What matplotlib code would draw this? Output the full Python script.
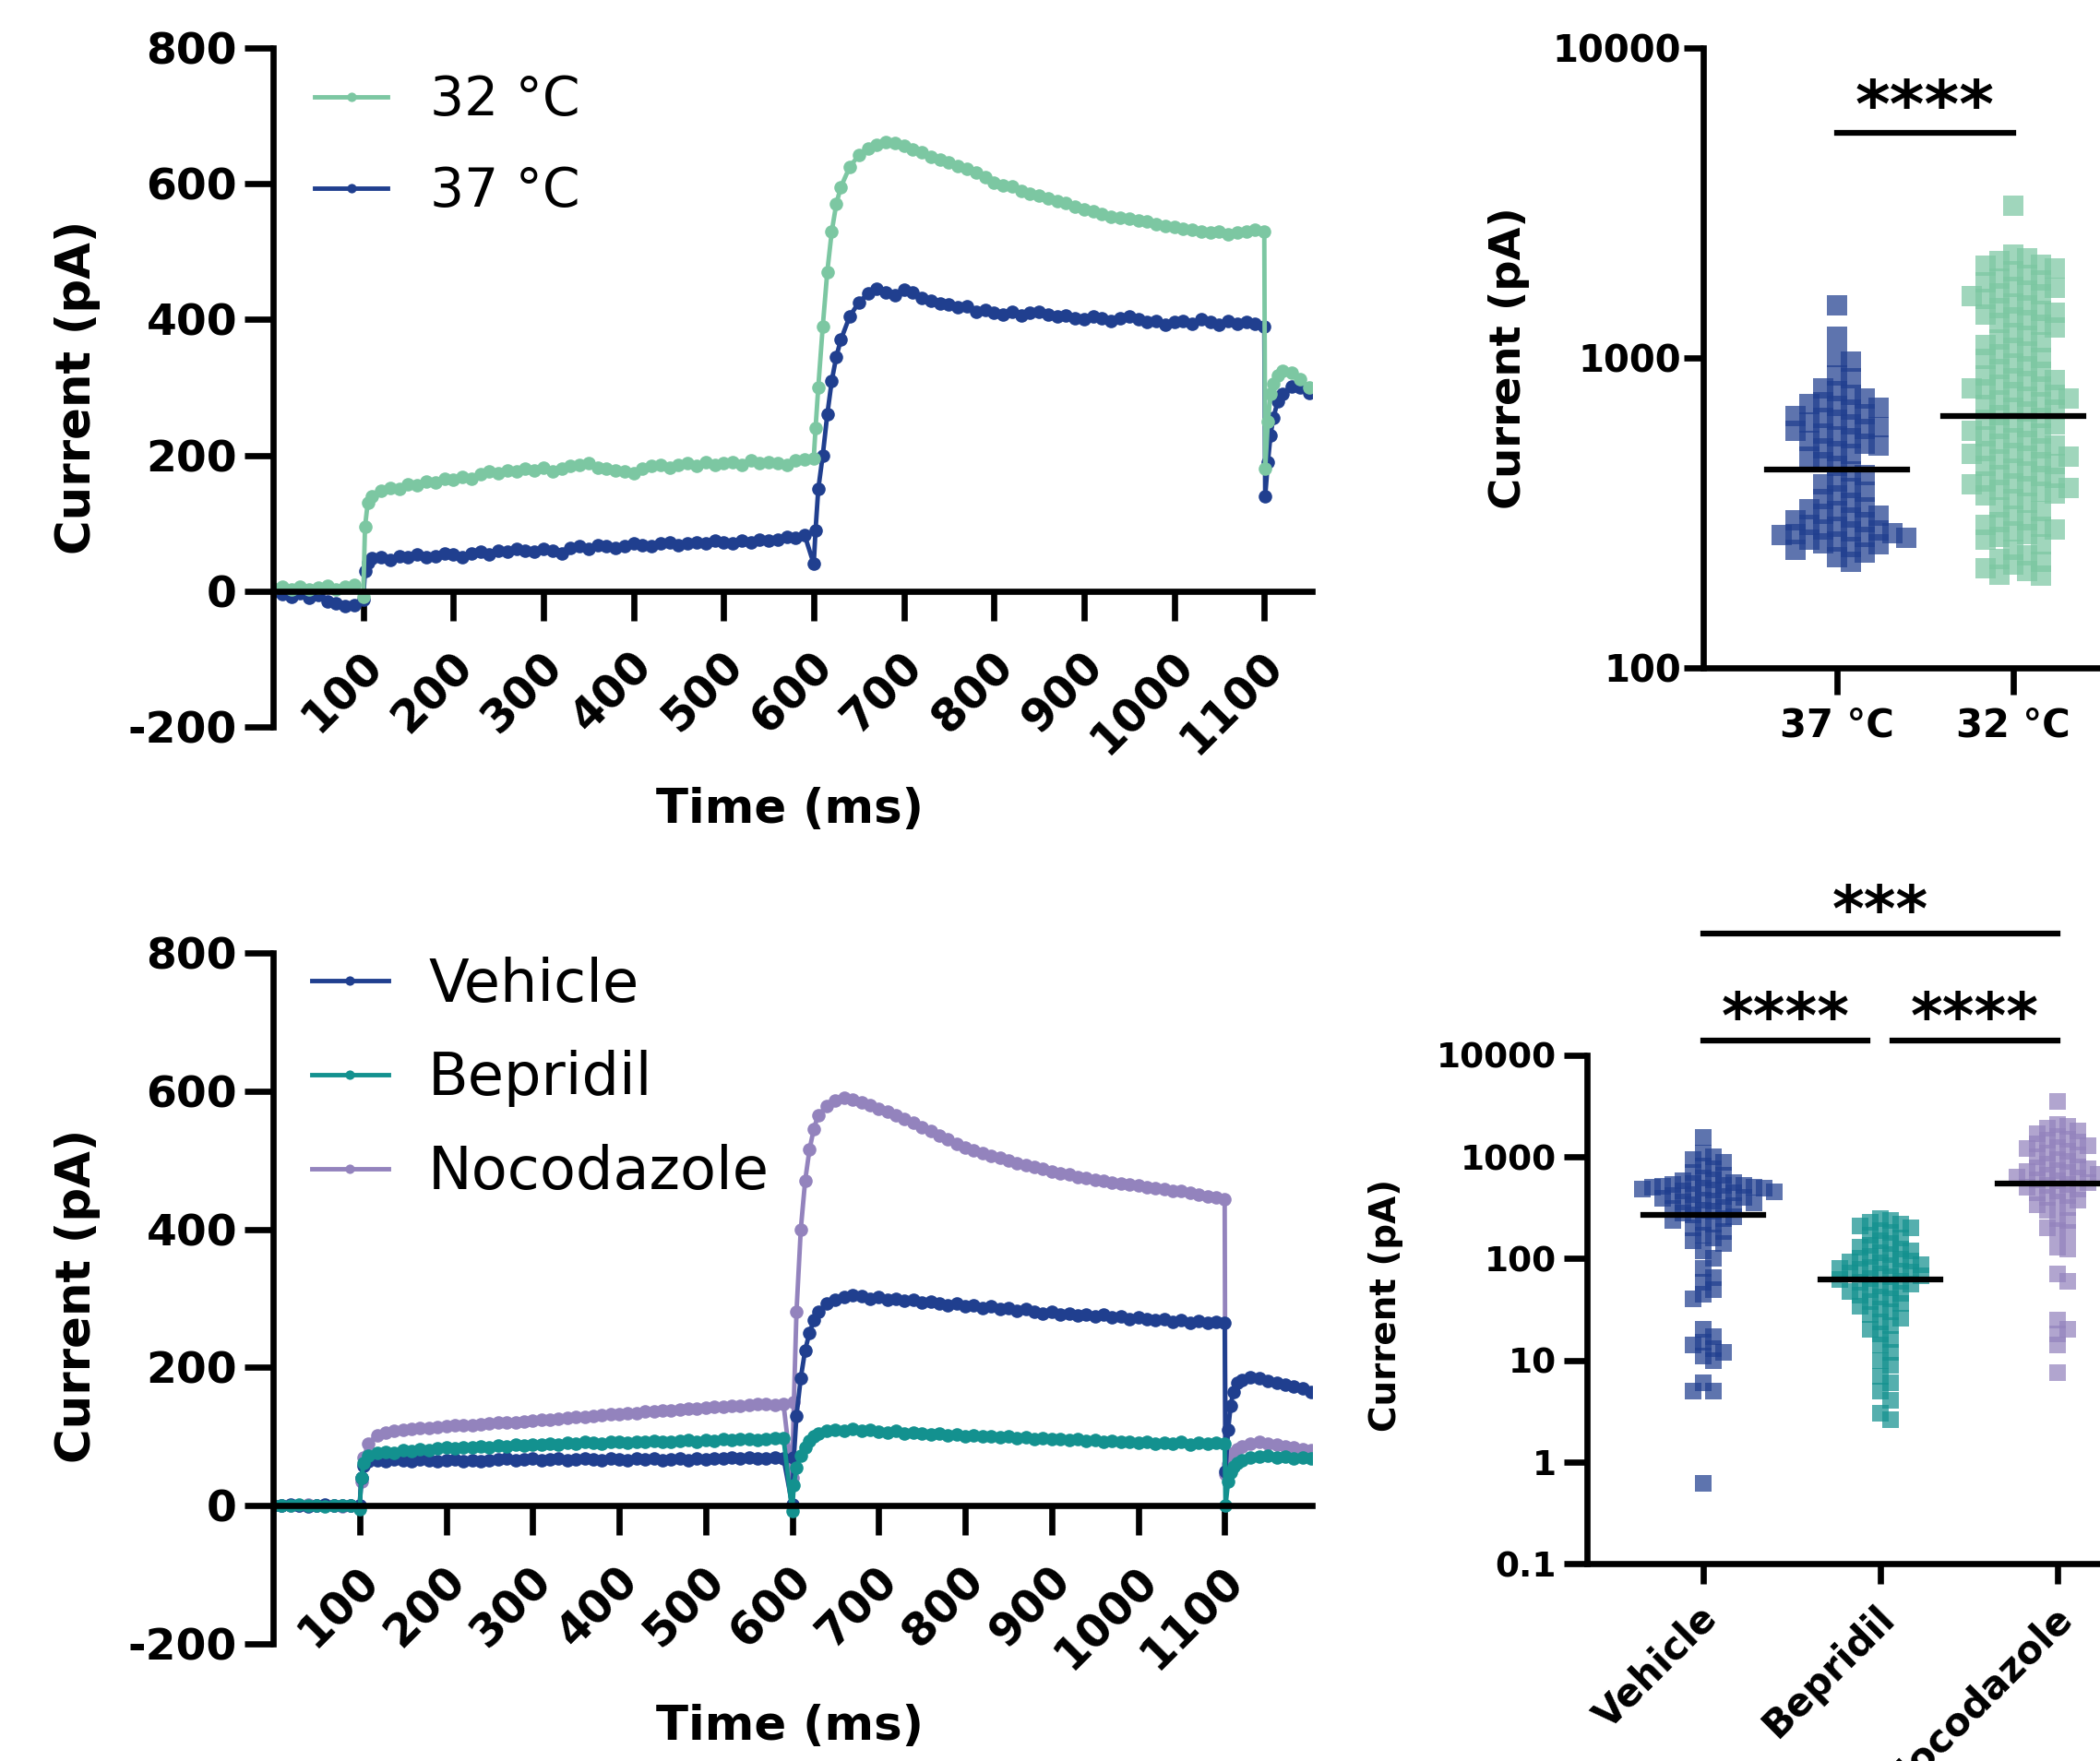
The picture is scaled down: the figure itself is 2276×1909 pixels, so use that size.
import numpy as np
import matplotlib
matplotlib.use('Agg')
import matplotlib.pyplot as plt
from matplotlib.ticker import NullLocator
from matplotlib.transforms import blended_transform_factory, ScaledTranslation

plt.rcParams['font.family'] = ['DejaVu Sans']
plt.rcParams['axes.unicode_minus'] = False

# colours
c_green = '#7cc7a2'
c_blue = '#203f8f'
c_teal = '#13918f'
c_lav = '#9383bd'

############ traces, temperature (ms / pA) ############
t_top = [0, 10, 20, 30, 40, 50, 60, 70, 80, 90,
         100, 102, 105, 110, 120, 130, 140, 150, 160, 170,
         180, 190, 200, 210, 220, 230, 240, 250, 260, 270,
         280, 290, 300, 310, 320, 330, 340, 350, 360, 370,
         380, 390, 400, 410, 420, 430, 440, 450, 460, 470,
         480, 490, 500, 510, 520, 530, 540, 550, 560, 570,
         580, 590,
         600, 602, 605, 610, 615, 620, 625,
         630, 640, 650, 660, 670, 680, 690, 700, 710, 720,
         730, 740, 750, 760, 770, 780, 790, 800, 810, 820,
         830, 840, 850, 860, 870, 880, 890, 900, 910, 920,
         930, 940, 950, 960, 970, 980, 990, 1000, 1010, 1020,
         1030, 1040, 1050, 1060, 1070, 1080, 1090,
         1100, 1101, 1104, 1107, 1110, 1115, 1120, 1130, 1140, 1150]

i_32 = [4, 6, 3, 7, 2, 5, 8, 3, 6, 9,
        -8, 95, 130, 140, 148, 152, 150, 158, 156, 162,
        160, 166, 164, 168, 166, 172, 176, 174, 178, 176,
        180, 178, 182, 176, 180, 184, 186, 188, 182, 180,
        178, 176, 174, 180, 184, 186, 182, 186, 188, 184,
        190, 186, 188, 190, 186, 192, 188, 190, 188, 186,
        192, 194,
        196, 240, 300, 390, 470, 530, 570,
        595, 625, 642, 652, 658, 662, 660, 656, 650, 646,
        640, 636, 632, 626, 622, 616, 610, 602, 598, 596,
        590, 586, 582, 578, 574, 572, 566, 562, 560, 556,
        552, 550, 548, 546, 544, 540, 538, 536, 534, 532,
        530, 528, 530, 526, 528, 530, 532,
        530, 180, 250, 290, 305, 318, 325, 322, 312, 300]

i_37 = [0, -5, -8, -3, -10, -6, -15, -18, -22, -20,
        -12, 30, 42, 48, 50, 46, 52, 50, 54, 50,
        52, 56, 54, 50, 56, 58, 54, 60, 58, 62,
        60, 58, 62, 60, 56, 64, 66, 62, 68, 66,
        64, 66, 70, 68, 66, 70, 72, 68, 70, 72,
        70, 74, 72, 70, 74, 72, 76, 74, 76, 80,
        78, 82,
        40, 90, 150, 200, 260, 310, 345,
        370, 405, 425, 438, 445, 440, 436, 444, 440, 432,
        428, 424, 422, 418, 420, 412, 414, 410, 408, 412,
        406, 410, 412, 408, 404, 406, 402, 400, 404, 402,
        398, 402, 404, 400, 396, 398, 392, 396, 398, 394,
        400, 396, 392, 398, 394, 396, 394,
        390, 140, 190, 230, 255, 280, 290, 302, 300, 292]

############ traces, drugs ############
t_bot = [0, 10, 20, 30, 40, 50, 60, 70, 80, 90,
         100, 102, 105, 110, 120, 130, 140, 150, 160, 170,
         180, 190, 200, 210, 220, 230, 240, 250, 260, 270,
         280, 290, 300, 310, 320, 330, 340, 350, 360, 370,
         380, 390, 400, 410, 420, 430, 440, 450, 460, 470,
         480, 490, 500, 510, 520, 530, 540, 550, 560, 570,
         580, 590,
         600, 602, 605, 610, 615, 620, 625,
         630, 640, 650, 660, 670, 680, 690, 700, 710, 720,
         730, 740, 750, 760, 770, 780, 790, 800, 810, 820,
         830, 840, 850, 860, 870, 880, 890, 900, 910, 920,
         930, 940, 950, 960, 970, 980, 990, 1000, 1010, 1020,
         1030, 1040, 1050, 1060, 1070, 1080, 1090,
         1100, 1101, 1104, 1107, 1110, 1115, 1120, 1130, 1140, 1150,
         1160, 1170, 1180, 1190, 1200]

i_veh = [0, 0, 1, 0, -1, 0, 1, 0, 0, 0,
         0, 40, 58, 64, 66, 65, 67, 66, 65, 67,
         66, 64, 66, 67, 65, 66, 64, 66, 67, 68,
         66, 67, 68, 66, 67, 68, 66, 67, 68, 67,
         66, 68, 67, 66, 68, 67, 68, 66, 67, 68,
         66, 68, 67, 68, 69, 70, 68, 70, 69, 68,
         70, 69,
         2, 70, 130, 185, 225, 250, 268,
         280, 292, 298, 302, 305, 303, 300, 302, 298, 300,
         296, 298, 294, 295, 292, 290, 292, 288, 290, 286,
         288, 284, 286, 282, 284, 280, 278, 280, 276, 278,
         275, 277, 274, 276, 272, 274, 270, 272, 270, 268,
         270, 266, 268, 265, 267, 264, 266,
         265, 50, 110, 145, 165, 178, 182, 186, 184, 180,
         178, 175, 172, 170, 165]

i_bep = [0, 0, 0, 1, 0, 0, -1, 0, 0, 0,
         -5, 40, 62, 72, 76, 78, 77, 80, 79, 82,
         81, 83, 84, 83, 85, 84, 86, 85, 87, 86,
         88, 87, 89, 88, 90, 89, 91, 90, 92, 91,
         90, 92, 93, 91, 93, 92, 94, 93, 92, 94,
         95, 93, 95, 94, 96, 95, 97, 96, 95, 97,
         98, 98,
         -8, 30, 55, 72, 85, 94, 100,
         104, 108, 110, 109, 111, 108, 110, 107, 106, 108,
         105, 106, 104, 103, 105, 102, 103, 101, 102, 100,
         101, 99, 100, 98, 99, 97, 98, 96, 97, 95,
         96, 94, 95, 93, 94, 92, 93, 91, 92, 90,
         91, 90, 92, 89, 91, 90, 91,
         90, 0, 35, 48, 56, 62, 66, 70, 71, 72,
         70, 71, 69, 70, 68]

i_noc = [0, 0, 0, 0, 1, 0, 0, 0, -1, 0,
         0, 35, 70, 90, 102, 106, 108, 110, 111, 112,
         113, 114, 115, 116, 116, 117, 118, 119, 120, 120,
         121, 122, 123, 124, 124, 126, 127, 128, 129, 130,
         131, 132, 133, 134, 134, 136, 137, 138, 138, 139,
         140, 141, 142, 143, 143, 145, 145, 146, 147, 147,
         146, 147,
         40, 150, 280, 400, 470, 515, 545,
         565, 578, 586, 590, 588, 584, 580, 575, 570, 565,
         560, 554, 548, 542, 536, 530, 524, 518, 514, 510,
         506, 503, 500, 496, 493, 490, 487, 484, 481, 479,
         476, 474, 472, 470, 468, 466, 465, 463, 461, 460,
         458, 456, 455, 453, 450, 448, 446,
         443, 45, 60, 70, 76, 82, 86, 90, 92, 90,
         88, 86, 84, 82, 80]

############ peak currents (pA) ############
temp_labels = ['37 °C', '32 °C']
cur_37 = [1480, 1170, 1010, 970, 880, 860, 800, 780, 760, 740, 720, 710,
          700, 690, 680, 660, 650, 640, 630, 620, 610, 600, 590, 580,
          570, 560, 550, 540, 530, 520, 510, 500, 490, 480, 460, 450,
          430, 420, 400, 390, 380, 370, 360, 350, 340, 330, 325, 320,
          315, 310, 305, 300, 295, 290, 285, 280, 278, 275, 272, 270,
          268, 265, 262, 260, 255, 252, 250, 245, 240, 235, 228, 220]
cur_32 = [3100,
          2150, 2100, 2050, 2000, 1980, 1950,
          1900, 1850, 1800, 1780, 1750, 1700, 1680, 1650, 1620, 1600,
          1580, 1550, 1500, 1480, 1450, 1420, 1400, 1380, 1350, 1320, 1300,
          1280, 1250, 1200, 1180, 1150, 1120, 1100, 1080, 1050, 1030, 1000,
          990, 960, 940, 920, 900, 880, 860, 850, 840, 820, 810, 800,
          790, 775, 760, 750, 740, 730, 720, 705, 690, 680, 670, 655,
          640, 630, 620, 610, 600, 590, 580, 570, 560, 550, 540, 530, 520, 510, 500, 495, 490,
          485, 480, 470, 460, 455, 450, 440, 430, 420, 415, 410, 400, 395, 390, 385, 380, 375, 370,
          365, 360, 350, 340, 330, 320, 310, 300, 295, 290, 285, 280, 275, 270,
          265, 260, 250, 240, 230, 225, 220, 215, 210, 205, 200, 198]
temp_medians = [436, 649]

drug_labels = ['Vehicle', 'Bepridil', 'Nocodazole']
cur_veh = [1550, 1100, 1000, 950, 880, 820, 760, 700, 660, 620, 600, 580,
           560, 550, 540, 530, 520, 510, 505, 500, 495, 490, 480, 470,
           460, 450, 440, 430, 420, 410, 400, 390, 380, 370, 360, 350,
           340, 330, 320, 310, 300, 290, 280, 270, 260, 250, 240, 230,
           220, 200, 185, 170, 160, 150, 140, 120, 100, 80, 65, 58,
           50, 45, 40, 20, 17, 15, 14, 13, 12, 11, 10, 6, 5, 5, 0.62]
cur_bep = [250, 240, 230, 220, 210, 200, 190, 180, 170, 160, 150, 140,
           135, 130, 125, 120, 115, 110, 105, 100, 98, 95, 92, 90,
           88, 85, 82, 80, 78, 76, 74, 72, 70, 68, 66, 64,
           62, 60, 58, 56, 54, 52, 50, 48, 46, 44, 42, 40,
           38, 36, 34, 32, 30, 28, 26, 24, 22, 20, 18, 16,
           14, 12, 10, 9, 7, 6, 5, 4, 3, 2.6]
cur_noc = [3500, 2100, 2000, 1900, 1800, 1700, 1600, 1500, 1450, 1400, 1350, 1300,
           1250, 1200, 1150, 1100, 1050, 1000, 950, 900, 850, 800, 780, 760,
           740, 720, 700, 680, 660, 640, 620, 600, 580, 560, 540, 520,
           500, 480, 460, 440, 420, 400, 380, 360, 340, 320, 300, 250,
           240, 200, 190, 180, 130, 125, 70, 60, 25, 20, 18, 14, 7.5]
drug_medians = [272, 62, 546]

W, H = 2276, 1909
fig = plt.figure(figsize=(W / 100, H / 100), dpi=100)


def px_box(l, t, r, b):
    # pixel box of the reference -> figure fraction
    return [l / W, 1 - b / H, (r - l) / W, (b - t) / H]


def shift_labels(labels, dx_px):
    # nudge rotated tick labels sideways
    off = ScaledTranslation(dx_px / 100, 0, fig.dpi_scale_trans)
    for lab in labels:
        lab.set_transform(lab.get_transform() + off)


def trace_axes(ax, xmax):
    ax.set_xlim(0, xmax)
    ax.set_ylim(-200, 800)
    ax.spines['top'].set_visible(False)
    ax.spines['right'].set_visible(False)
    ax.spines['bottom'].set_position(('data', 0))
    for s in ['left', 'bottom']:
        ax.spines[s].set_linewidth(4.8)
    ax.set_xticks([100, 200, 300, 400, 500, 600, 700, 800, 900, 1000, 1100])
    ax.set_yticks([-200, 0, 200, 400, 600, 800])
    ax.tick_params(axis='y', length=22, width=4.8, labelsize=34, pad=6)
    ax.tick_params(axis='x', length=23, width=4.8, labelsize=35, pad=30)
    plt.setp(ax.get_xticklabels(), rotation=45, ha='right', va='center',
             rotation_mode='anchor', fontweight='bold')
    plt.setp(ax.get_yticklabels(), fontweight='bold')
    shift_labels(ax.get_xticklabels(), 13)


def swarm_x(ax, xc, vals, gap):
    # graphpad-like scatter: spread points sideways row by row
    vals = np.asarray(vals, dtype=float)
    pts = ax.transData.transform(np.column_stack([np.full(len(vals), xc), vals]))
    x0 = pts[0, 0]
    ys = pts[:, 1]
    offs = np.zeros(len(vals))
    done = []
    cands = [0.0]
    for k in range(1, 60):
        cands += [k * gap / 2, -k * gap / 2]
    for i in np.argsort(-ys):
        for c in cands:
            if all(abs(c - o) >= gap or abs(ys[i] - y) >= gap for o, y in done):
                break
        offs[i] = c
        done.append((c, ys[i]))
    return ax.transData.inverted().transform(np.column_stack([x0 + offs, ys]))[:, 0]


line_kw = dict(lw=3.5, marker='o', markersize=10.5, markeredgewidth=0)

# ---------- top left: traces 32/37 ----------
ax1 = fig.add_axes(px_box(296, 52, 1422, 788))
ax1.plot(t_top, i_37, color=c_blue, label='37 °C', **line_kw)
ax1.plot(t_top, i_32, color=c_green, label='32 °C', **line_kw)
trace_axes(ax1, 1153)
h, l = ax1.get_legend_handles_labels()
ax1.legend(h[::-1], l[::-1], loc='upper left', bbox_to_anchor=(0.04, 0.962),
           frameon=False, fontsize=42, handlelength=1.36, handletextpad=0.78,
           labelspacing=0.72, borderaxespad=0, borderpad=0, markerscale=0.7)
fig.text(84 / W, 1 - 420 / H, 'Current (pA)', rotation=90, ha='center', va='center',
         fontsize=37, fontweight='bold')
fig.text(856 / W, 1 - 878 / H, 'Time (ms)', ha='center', va='center',
         fontsize=37, fontweight='bold')

# ---------- bottom left: traces drugs ----------
ax3 = fig.add_axes(px_box(296, 1033, 1422, 1782))
ax3.plot(t_bot, i_noc, color=c_lav, label='Nocodazole', **line_kw)
ax3.plot(t_bot, i_veh, color=c_blue, label='Vehicle', **line_kw)
ax3.plot(t_bot, i_bep, color=c_teal, label='Bepridil', **line_kw)
trace_axes(ax3, 1201)
h, l = ax3.get_legend_handles_labels()
ax3.legend([h[1], h[2], h[0]], [l[1], l[2], l[0]], loc='upper left',
           bbox_to_anchor=(0.037, 0.995), frameon=False, fontsize=46,
           handlelength=1.3, handletextpad=0.68, labelspacing=0.62,
           borderaxespad=0, borderpad=0, markerscale=0.7)
fig.text(84 / W, 1 - 1405 / H, 'Current (pA)', rotation=90, ha='center', va='center',
         fontsize=37, fontweight='bold')
fig.text(856 / W, 1 - 1872 / H, 'Time (ms)', ha='center', va='center',
         fontsize=37, fontweight='bold')

# ---------- top right: scatter 37 vs 32 ----------
ax2 = fig.add_axes(px_box(1846, 52, 2276, 724))
ax2.set_yscale('log')
ax2.set_ylim(100, 10000)
ax2.set_xlim(-0.759, 1.492)
for k, (vals, col) in enumerate([(cur_37, c_blue), (cur_32, c_green)]):
    xs = swarm_x(ax2, k, vals, 15)
    ax2.scatter(xs, vals, marker='s', s=250, color=col, alpha=0.72, linewidths=0, zorder=2)
    ax2.plot([k - 0.4, k + 0.4], [temp_medians[k]] * 2, color='black', lw=4.5, zorder=3)
ax2.spines['top'].set_visible(False)
ax2.spines['right'].set_visible(False)
for s in ['left', 'bottom']:
    ax2.spines[s].set_linewidth(4.8)
ax2.set_yticks([100, 1000, 10000])
ax2.set_yticklabels(['100', '1000', '10000'])
ax2.yaxis.set_minor_locator(NullLocator())
ax2.set_xticks([0, 1])
ax2.set_xticklabels(temp_labels)
ax2.tick_params(axis='y', length=15, width=4.8, labelsize=29, pad=2)
ax2.tick_params(axis='x', length=21, width=4.8, labelsize=30, pad=9)
plt.setp(ax2.get_xticklabels() + ax2.get_yticklabels(), fontweight='bold')
tr2 = blended_transform_factory(ax2.transData, ax2.transAxes)
ax2.plot([0, 1], [0.863, 0.863], color='black', lw=4.5, transform=tr2, clip_on=False)
ax2.text(0.5, 0.872, '****', transform=tr2, ha='center', va='baseline',
         fontsize=52, fontweight='bold')
fig.text(1636 / W, 1 - 388 / H, 'Current (pA)', rotation=90, ha='center', va='center',
         fontsize=33.5, fontweight='bold')

# ---------- bottom right: scatter drugs ----------
ax4 = fig.add_axes(px_box(1720, 1144, 2276, 1695))
ax4.set_yscale('log')
ax4.set_ylim(0.1, 10000)
ax4.set_xlim(-0.656, 2.24)
for k, (vals, col) in enumerate([(cur_veh, c_blue), (cur_bep, c_teal), (cur_noc, c_lav)]):
    xs = swarm_x(ax4, k, vals, 11)
    ax4.scatter(xs, vals, marker='s', s=150, color=col, alpha=0.72, linewidths=0, zorder=2)
    ax4.plot([k - 0.34, k + 0.34], [drug_medians[k]] * 2, color='black', lw=4.5, zorder=3)
ax4.spines['top'].set_visible(False)
ax4.spines['right'].set_visible(False)
for s in ['left', 'bottom']:
    ax4.spines[s].set_linewidth(4.8)
ax4.set_yticks([0.1, 1, 10, 100, 1000, 10000])
ax4.set_yticklabels(['0.1', '1', '10', '100', '1000', '10000'])
ax4.yaxis.set_minor_locator(NullLocator())
ax4.set_xticks([0, 1, 2])
ax4.set_xticklabels(drug_labels)
ax4.tick_params(axis='y', length=18, width=4.8, labelsize=27, pad=6)
ax4.tick_params(axis='x', length=16, width=4.8, labelsize=30, pad=22)
plt.setp(ax4.get_xticklabels(), rotation=45, ha='right', va='center',
         rotation_mode='anchor')
plt.setp(ax4.get_xticklabels() + ax4.get_yticklabels(), fontweight='bold')
shift_labels(ax4.get_xticklabels(), 9)
tr4 = blended_transform_factory(ax4.transData, ax4.transAxes)
ax4.plot([0, 2], [1.2396, 1.2396], color='black', lw=4.5, transform=tr4, clip_on=False)
ax4.plot([0, 0.93], [1.029, 1.029], color='black', lw=4.5, transform=tr4, clip_on=False)
ax4.plot([1.07, 2], [1.029, 1.029], color='black', lw=4.5, transform=tr4, clip_on=False)
ax4.text(1.0, 1.245, '***', transform=tr4, ha='center', va='baseline',
         fontsize=48, fontweight='bold')
ax4.text(0.465, 1.035, '****', transform=tr4, ha='center', va='baseline',
         fontsize=48, fontweight='bold')
ax4.text(1.535, 1.035, '****', transform=tr4, ha='center', va='baseline',
         fontsize=48, fontweight='bold')
fig.text(1502 / W, 1 - 1415 / H, 'Current (pA)', rotation=90, ha='center', va='center',
         fontsize=28, fontweight='bold')

fig.savefig('out.png', dpi=100)
